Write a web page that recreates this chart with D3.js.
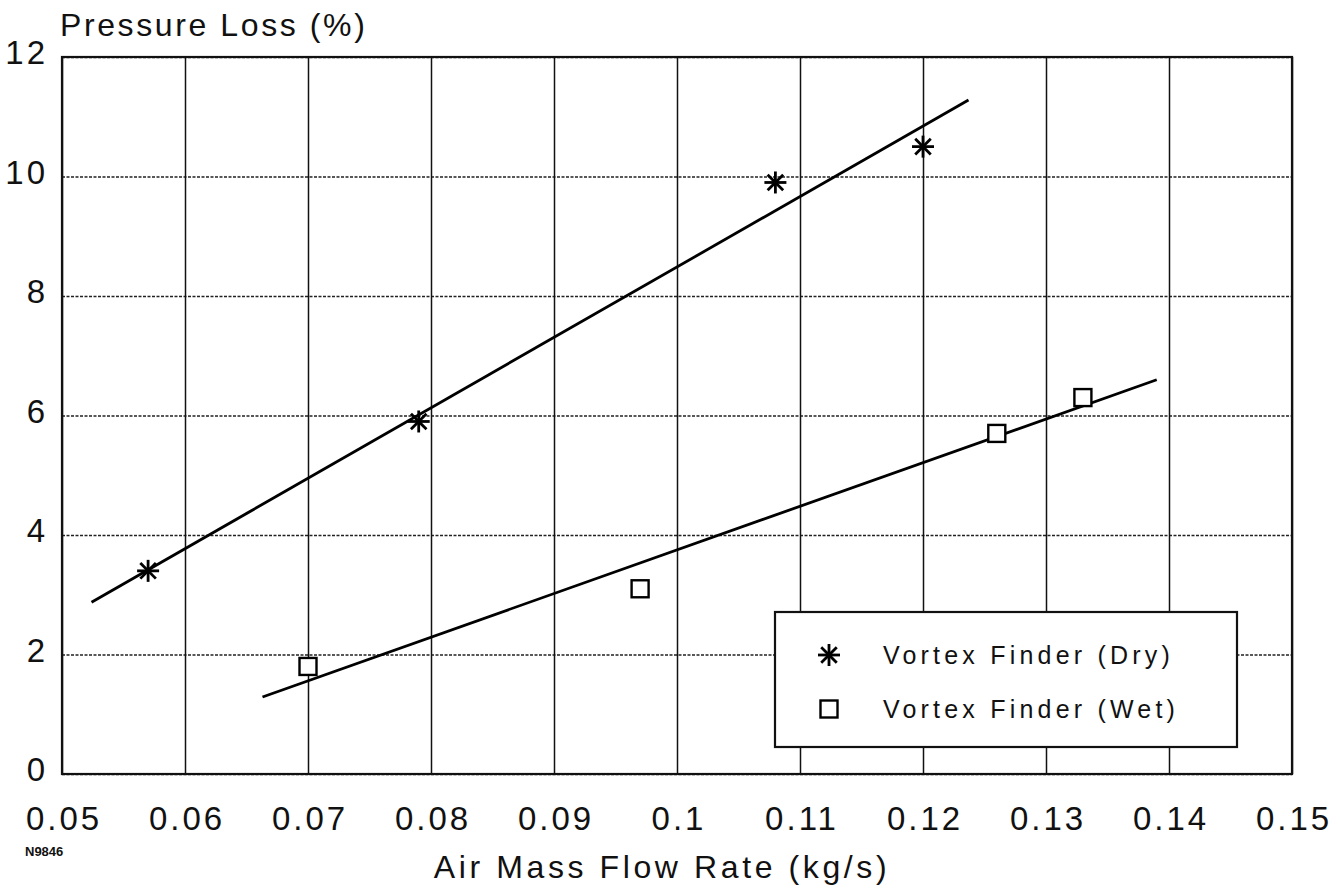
<!DOCTYPE html>
<html lang="en">
  <head>
    <meta charset="UTF-8" />
    <title>Pressure Loss vs Air Mass Flow Rate</title>
    <script src="https://cdn.jsdelivr.net/npm/d3@7"></script>
    <style>
      body { margin: 0; background: #fff; }
      svg text { font-family: "Liberation Sans", Arial, sans-serif; fill: #111; }
    </style>
  </head>
  <body>
    <div id='app'></div>

    <script>
  // measured data
  const dryFlow = [0.057, 0.079, 0.108, 0.12]
  const dryLoss = [3.4, 5.9, 9.9, 10.5]
  const wetFlow = [0.07, 0.097, 0.126, 0.133]
  const wetLoss = [1.8, 3.1, 5.7, 6.3]

  // x range over which each fitted line is drawn
  const dryFitRange = [0.0524, 0.1237]
  const wetFitRange = [0.0663, 0.139]

  const xTicks = [0.05, 0.06, 0.07, 0.08, 0.09, 0.1, 0.11, 0.12, 0.13, 0.14, 0.15]
  const yTicks = [0, 2, 4, 6, 8, 10, 12]

  const seriesNames = ['Vortex Finder (Dry)', 'Vortex Finder (Wet)']

  const width = 1340
  const height = 891
  const margin = { top: 57, right: 48, bottom: 117, left: 62 }
  const innerW = width - margin.left - margin.right
  const innerH = height - margin.top - margin.bottom
  const font = '"Liberation Sans", Arial, sans-serif'

  const svg = d3.select('#app').append('svg')
    .attr('width', width)
    .attr('height', height)

  const g = svg.append('g')
    .attr('transform', `translate(${margin.left},${margin.top})`)

  const x = d3.scaleLinear().domain([0.05, 0.15]).range([0, innerW])
  const y = d3.scaleLinear().domain([0, 12]).range([innerH, 0])

  // horizontal grid (dotted)
  const yGrid = g.append('g')
    .call(d3.axisLeft(y).tickValues(yTicks).tickSize(-innerW).tickFormat(''))
  yGrid.select('.domain').remove()
  yGrid.selectAll('line')
    .attr('stroke', '#222')
    .attr('stroke-width', 1.3)
    .attr('stroke-dasharray', '3,1.5')

  // vertical grid (solid)
  const xGrid = g.append('g')
    .attr('transform', `translate(0,${innerH})`)
    .call(d3.axisBottom(x).tickValues(xTicks).tickSize(-innerH).tickFormat(''))
  xGrid.select('.domain').remove()
  xGrid.selectAll('line')
    .attr('stroke', '#111')
    .attr('stroke-width', 1.5)

  // frame
  g.append('rect')
    .attr('width', innerW)
    .attr('height', innerH)
    .attr('fill', 'none')
    .attr('stroke', '#111')
    .attr('stroke-width', 2.2)

  // tick labels
  const xAxis = g.append('g')
    .attr('transform', `translate(0,${innerH})`)
    .call(d3.axisBottom(x).tickValues(xTicks).tickSize(0).tickPadding(33)
      .tickFormat(d => d3.format('')(+d.toFixed(2))))
  xAxis.select('.domain').remove()
  xAxis.selectAll('text')
    .attr('font-size', 33)
    .attr('letter-spacing', 3)
    .attr('dx', 1.5)
    .style('font-family', font)
    .attr('fill', '#111')

  const yAxis = g.append('g')
    .call(d3.axisLeft(y).tickValues(yTicks).tickSize(0).tickPadding(14))
  yAxis.select('.domain').remove()
  yAxis.selectAll('text')
    .attr('font-size', 33)
    .attr('letter-spacing', 3)
    .attr('dy', '0.2em')
    .style('font-family', font)
    .attr('fill', '#111')

  // axis titles
  svg.append('text')
    .attr('x', 60)
    .attr('y', 36)
    .attr('font-size', 32)
    .attr('letter-spacing', 2.6)
    .text('Pressure Loss (%)')

  svg.append('text')
    .attr('x', 662)
    .attr('y', 878)
    .attr('text-anchor', 'middle')
    .attr('font-size', 32)
    .attr('letter-spacing', 3.6)
    .text('Air Mass Flow Rate (kg/s)')

  svg.append('text')
    .attr('x', 25)
    .attr('y', 856)
    .attr('font-size', 13)
    .attr('font-weight', 'bold')
    .text('N9846')

  // least-squares fit
  function fit(xs, ys) {
    const mx = d3.mean(xs), my = d3.mean(ys)
    const sxy = d3.sum(xs, (v, i) => (v - mx) * (ys[i] - my))
    const sxx = d3.sum(xs, v => (v - mx) * (v - mx))
    const b = sxy / sxx
    return v => my + b * (v - mx)
  }

  const line = d3.line().x(d => x(d[0])).y(d => y(d[1]))

  const dryFit = fit(dryFlow, dryLoss)
  const wetFit = fit(wetFlow, wetLoss)

  g.append('path')
    .attr('d', line(dryFitRange.map(v => [v, dryFit(v)])))
    .attr('fill', 'none')
    .attr('stroke', '#000')
    .attr('stroke-width', 2.8)

  g.append('path')
    .attr('d', line(wetFitRange.map(v => [v, wetFit(v)])))
    .attr('fill', 'none')
    .attr('stroke', '#000')
    .attr('stroke-width', 2.8)

  // markers
  function asterisk(sel, r) {
    [0, 45, 90, 135].forEach(a => {
      const rad = a * Math.PI / 180
      sel.append('line')
        .attr('x1', -r * Math.cos(rad)).attr('y1', -r * Math.sin(rad))
        .attr('x2', r * Math.cos(rad)).attr('y2', r * Math.sin(rad))
        .attr('stroke', '#000')
        .attr('stroke-width', 2.8)
    })
  }

  function square(sel, s) {
    sel.append('rect')
      .attr('x', -s / 2).attr('y', -s / 2)
      .attr('width', s).attr('height', s)
      .attr('fill', '#fff')
      .attr('stroke', '#000')
      .attr('stroke-width', 2.4)
  }

  g.selectAll('.dry')
    .data(dryFlow)
    .join('g')
    .attr('class', 'dry')
    .attr('transform', (d, i) => `translate(${x(d)},${y(dryLoss[i])})`)
    .each(function () { asterisk(d3.select(this), 11) })

  g.selectAll('.wet')
    .data(wetFlow)
    .join('g')
    .attr('class', 'wet')
    .attr('transform', (d, i) => `translate(${x(d)},${y(wetLoss[i])})`)
    .each(function () { square(d3.select(this), 17) })

  // legend
  const legend = svg.append('g').attr('transform', 'translate(775,612)')
  legend.append('rect')
    .attr('width', 462)
    .attr('height', 135)
    .attr('fill', '#fff')
    .attr('stroke', '#111')
    .attr('stroke-width', 2.2)

  const items = legend.selectAll('.item')
    .data(seriesNames)
    .join('g')
    .attr('class', 'item')
    .attr('transform', (d, i) => `translate(54,${43 + i * 54})`)

  items.each(function (d, i) {
    const sel = d3.select(this)
    if (i === 0) asterisk(sel, 11)
    else square(sel, 17)
  })

  items.append('text')
    .attr('x', 54)
    .attr('y', 9)
    .attr('font-size', 25)
    .attr('letter-spacing', 4.2)
    .text(d => d)
    </script>
  </body>
</html>
